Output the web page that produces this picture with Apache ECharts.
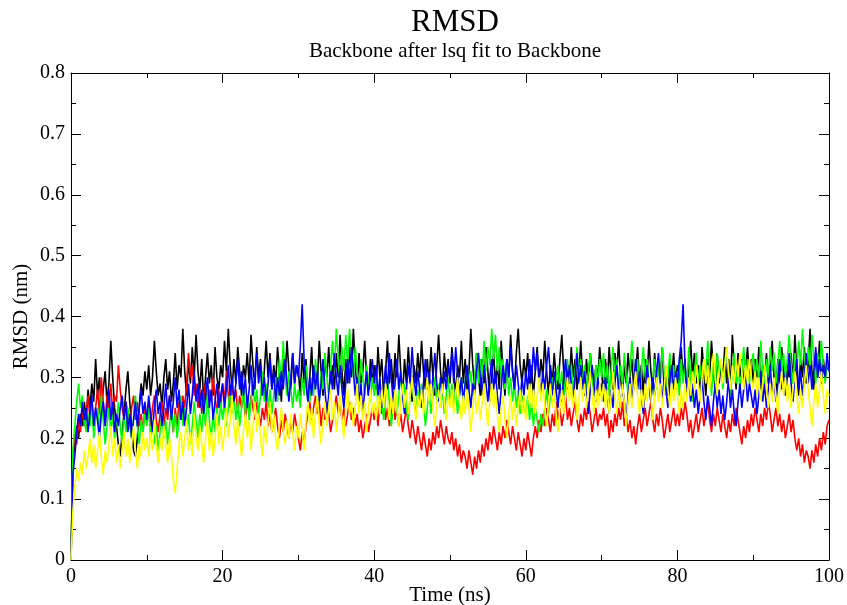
<!DOCTYPE html>
<html>
<head>
<meta charset="utf-8">
<script src="https://cdn.jsdelivr.net/npm/echarts@6/dist/echarts.min.js"></script>
<style>
html,body{margin:0;padding:0;background:#fff;}
#chart{width:847px;height:605px;}
</style>
</head>
<body>
<div id="chart"></div>
<script>
// time step 0.25 ns, 0..100 ns
const timeStep = 0.25;

const black = [
0.00,0.16,0.19,0.22,0.20,0.24,0.22,0.26,0.23,0.28,0.25,0.29,0.26,0.33,0.27,0.30,0.25,0.28,0.31,0.26,0.29,0.36,0.30,0.25,0.22,0.19,0.17,0.21,0.24,0.28,0.31,0.26,0.22,0.18,0.17,0.20,0.25,0.29,0.27,0.31,
0.28,0.32,0.27,0.30,0.36,0.31,0.27,0.29,0.25,0.30,0.33,0.28,0.31,0.26,0.29,0.34,0.28,0.32,0.30,0.38,0.31,0.27,0.33,0.29,0.35,0.30,0.37,0.31,0.28,0.33,0.26,0.30,0.34,0.29,0.32,0.27,0.35,0.30,0.28,0.32,
0.30,0.36,0.31,0.38,0.32,0.28,0.33,0.29,0.35,0.31,0.27,0.32,0.30,0.34,0.29,0.37,0.32,0.28,0.35,0.30,0.33,0.27,0.31,0.36,0.30,0.34,0.28,0.32,0.29,0.35,0.31,0.26,0.33,0.30,0.36,0.31,0.28,0.34,0.29,0.32,
0.31,0.27,0.34,0.29,0.33,0.26,0.30,0.35,0.28,0.32,0.29,0.36,0.31,0.27,0.33,0.30,0.35,0.29,0.32,0.28,0.34,0.30,0.37,0.31,0.27,0.33,0.29,0.35,0.30,0.38,0.32,0.28,0.34,0.29,0.31,0.36,0.30,0.27,0.33,0.29,
0.32,0.28,0.35,0.30,0.33,0.27,0.31,0.36,0.29,0.33,0.28,0.34,0.30,0.37,0.31,0.27,0.33,0.29,0.35,0.30,0.26,0.32,0.29,0.34,0.30,0.36,0.31,0.28,0.33,0.29,0.35,0.30,0.27,0.32,0.37,0.31,0.28,0.34,0.30,0.33,
0.29,0.35,0.31,0.27,0.32,0.30,0.36,0.29,0.33,0.28,0.31,0.38,0.32,0.28,0.34,0.30,0.27,0.33,0.29,0.35,0.31,0.26,0.30,0.34,0.29,0.32,0.28,0.36,0.31,0.27,0.33,0.30,0.37,0.31,0.28,0.34,0.38,0.32,0.29,0.33,
0.30,0.34,0.28,0.32,0.27,0.31,0.35,0.29,0.33,0.30,0.36,0.31,0.27,0.32,0.29,0.34,0.30,0.28,0.33,0.37,0.31,0.27,0.32,0.29,0.35,0.30,0.33,0.28,0.31,0.36,0.30,0.27,0.33,0.29,0.34,0.31,0.28,0.32,0.30,0.35,
0.31,0.27,0.33,0.29,0.35,0.30,0.28,0.34,0.31,0.36,0.30,0.27,0.32,0.29,0.34,0.30,0.33,0.28,0.31,0.35,0.29,0.32,0.27,0.33,0.30,0.36,0.31,0.28,0.34,0.29,0.32,0.30,0.35,0.28,0.31,0.27,0.33,0.30,0.34,0.29,
0.32,0.28,0.35,0.30,0.33,0.27,0.31,0.36,0.30,0.34,0.29,0.32,0.28,0.35,0.31,0.27,0.33,0.30,0.36,0.31,0.28,0.34,0.29,0.32,0.30,0.35,0.29,0.33,0.28,0.37,0.32,0.28,0.34,0.30,0.33,0.29,0.31,0.35,0.30,0.33,
0.29,0.33,0.30,0.35,0.28,0.32,0.30,0.34,0.29,0.31,0.36,0.30,0.27,0.33,0.29,0.35,0.31,0.28,0.32,0.30,0.34,0.29,0.37,0.31,0.27,0.33,0.30,0.35,0.29,0.32,0.38,0.31,0.28,0.34,0.30,0.36,0.29,0.33,0.30,0.32,
0.31];

const red = [
0.00,0.17,0.21,0.19,0.23,0.21,0.25,0.22,0.24,0.27,0.23,0.26,0.22,0.25,0.28,0.24,0.30,0.26,0.23,0.27,0.25,0.29,0.24,0.27,0.26,0.32,0.28,0.25,0.23,0.26,0.24,0.22,0.25,0.27,0.23,0.26,0.22,0.24,0.21,0.25,
0.23,0.26,0.22,0.25,0.27,0.23,0.21,0.24,0.26,0.22,0.25,0.23,0.27,0.24,0.21,0.25,0.22,0.26,0.23,0.27,0.25,0.29,0.34,0.30,0.32,0.27,0.29,0.25,0.28,0.24,0.27,0.29,0.25,0.28,0.26,0.30,0.27,0.24,0.28,0.25,
0.29,0.26,0.31,0.27,0.25,0.29,0.26,0.28,0.24,0.27,0.25,0.28,0.23,0.26,0.24,0.27,0.25,0.23,0.26,0.24,0.22,0.25,0.23,0.26,0.22,0.24,0.21,0.23,0.25,0.22,0.20,0.23,0.21,0.24,0.22,0.20,0.23,0.21,0.24,0.22,
0.20,0.18,0.21,0.19,0.22,0.24,0.26,0.23,0.25,0.27,0.24,0.26,0.22,0.25,0.23,0.26,0.24,0.21,0.23,0.25,0.27,0.24,0.26,0.23,0.25,0.22,0.24,0.26,0.23,0.25,0.22,0.24,0.21,0.23,0.20,0.22,0.24,0.21,0.23,0.25,
0.23,0.25,0.22,0.26,0.24,0.27,0.23,0.25,0.22,0.24,0.26,0.23,0.25,0.22,0.24,0.21,0.23,0.25,0.22,0.20,0.23,0.21,0.19,0.22,0.20,0.18,0.21,0.19,0.17,0.20,0.18,0.21,0.19,0.22,0.20,0.23,0.21,0.19,0.22,0.20,
0.19,0.21,0.18,0.20,0.17,0.19,0.16,0.18,0.17,0.15,0.18,0.16,0.14,0.17,0.15,0.18,0.16,0.19,0.17,0.20,0.18,0.21,0.19,0.22,0.20,0.18,0.21,0.19,0.22,0.20,0.23,0.21,0.19,0.22,0.20,0.18,0.21,0.19,0.17,0.20,
0.18,0.21,0.19,0.17,0.20,0.22,0.20,0.23,0.21,0.24,0.22,0.25,0.23,0.21,0.24,0.22,0.26,0.23,0.25,0.22,0.24,0.27,0.23,0.25,0.22,0.24,0.26,0.23,0.21,0.24,0.22,0.25,0.23,0.26,0.24,0.21,0.23,0.25,0.22,0.24,
0.23,0.25,0.22,0.24,0.20,0.23,0.21,0.24,0.22,0.25,0.23,0.26,0.22,0.24,0.21,0.23,0.20,0.22,0.19,0.22,0.24,0.21,0.23,0.25,0.22,0.24,0.26,0.23,0.21,0.24,0.22,0.25,0.23,0.20,0.22,0.24,0.21,0.23,0.25,0.22,
0.24,0.22,0.25,0.23,0.26,0.24,0.21,0.23,0.20,0.22,0.24,0.21,0.23,0.25,0.22,0.24,0.26,0.23,0.21,0.24,0.22,0.25,0.23,0.21,0.24,0.22,0.20,0.23,0.21,0.24,0.22,0.25,0.23,0.21,0.19,0.22,0.20,0.23,0.21,0.24,
0.22,0.25,0.23,0.21,0.24,0.22,0.25,0.23,0.26,0.24,0.21,0.23,0.25,0.22,0.24,0.21,0.23,0.20,0.22,0.24,0.21,0.23,0.20,0.18,0.20,0.17,0.19,0.16,0.18,0.17,0.15,0.18,0.16,0.19,0.17,0.20,0.18,0.21,0.19,0.22,
0.23];

const green = [
0.00,0.18,0.22,0.26,0.29,0.25,0.27,0.23,0.21,0.24,0.22,0.26,0.20,0.23,0.25,0.21,0.27,0.23,0.19,0.22,0.25,0.21,0.24,0.20,0.23,0.26,0.22,0.19,0.24,0.21,0.25,0.22,0.20,0.23,0.27,0.22,0.19,0.23,0.21,0.24,
0.22,0.25,0.20,0.23,0.19,0.22,0.18,0.21,0.24,0.20,0.23,0.19,0.22,0.26,0.21,0.24,0.20,0.23,0.27,0.22,0.25,0.21,0.24,0.19,0.22,0.26,0.23,0.20,0.24,0.21,0.25,0.22,0.28,0.23,0.20,0.24,0.21,0.25,0.22,0.26,
0.23,0.26,0.22,0.25,0.28,0.24,0.27,0.23,0.26,0.22,0.25,0.29,0.24,0.27,0.23,0.26,0.30,0.25,0.28,0.24,0.27,0.31,0.26,0.29,0.25,0.28,0.24,0.27,0.30,0.26,0.33,0.29,0.36,0.30,0.27,0.31,0.28,0.25,0.29,0.26,
0.28,0.25,0.30,0.27,0.32,0.28,0.26,0.30,0.27,0.33,0.29,0.26,0.31,0.28,0.34,0.30,0.27,0.32,0.36,0.31,0.38,0.33,0.29,0.35,0.31,0.37,0.32,0.38,0.33,0.30,0.35,0.31,0.28,0.33,0.30,0.27,0.32,0.29,0.26,0.30,
0.27,0.31,0.25,0.29,0.26,0.23,0.27,0.30,0.26,0.22,0.25,0.28,0.24,0.27,0.31,0.26,0.29,0.25,0.23,0.27,0.30,0.26,0.24,0.28,0.25,0.29,0.26,0.22,0.25,0.28,0.24,0.27,0.30,0.26,0.29,0.25,0.28,0.24,0.27,0.30,
0.26,0.29,0.25,0.28,0.24,0.27,0.30,0.26,0.29,0.32,0.28,0.31,0.27,0.30,0.34,0.29,0.33,0.30,0.36,0.31,0.35,0.32,0.38,0.33,0.37,0.31,0.35,0.30,0.33,0.28,0.32,0.27,0.30,0.26,0.29,0.25,0.28,0.24,0.27,0.25,
0.24,0.27,0.23,0.26,0.22,0.25,0.23,0.21,0.24,0.22,0.25,0.28,0.24,0.27,0.30,0.26,0.29,0.32,0.28,0.31,0.27,0.30,0.33,0.29,0.32,0.28,0.31,0.35,0.30,0.33,0.29,0.32,0.28,0.31,0.34,0.30,0.27,0.32,0.29,0.33,
0.30,0.34,0.29,0.32,0.27,0.31,0.35,0.30,0.33,0.28,0.32,0.29,0.34,0.30,0.27,0.31,0.36,0.32,0.29,0.33,0.28,0.31,0.35,0.30,0.33,0.29,0.26,0.30,0.33,0.28,0.32,0.29,0.35,0.31,0.27,0.30,0.34,0.29,0.32,0.28,
0.31,0.27,0.33,0.29,0.32,0.28,0.35,0.30,0.26,0.31,0.34,0.29,0.32,0.28,0.33,0.30,0.36,0.31,0.27,0.32,0.29,0.34,0.30,0.33,0.28,0.32,0.35,0.30,0.27,0.31,0.34,0.29,0.32,0.28,0.31,0.35,0.30,0.33,0.29,0.32,
0.34,0.30,0.33,0.29,0.36,0.31,0.28,0.33,0.30,0.35,0.31,0.34,0.29,0.32,0.36,0.31,0.34,0.30,0.33,0.37,0.32,0.29,0.34,0.31,0.36,0.32,0.38,0.33,0.30,0.35,0.31,0.37,0.33,0.29,0.34,0.31,0.36,0.32,0.29,0.33,
0.31];

const blue = [
0.00,0.14,0.17,0.21,0.24,0.22,0.26,0.23,0.25,0.21,0.24,0.27,0.22,0.25,0.23,0.20,0.24,0.26,0.22,0.25,0.28,0.23,0.26,0.21,0.24,0.22,0.25,0.27,0.23,0.26,0.21,0.24,0.20,0.23,0.26,0.22,0.25,0.28,0.24,0.26,
0.23,0.27,0.24,0.21,0.25,0.28,0.24,0.26,0.22,0.25,0.29,0.24,0.27,0.23,0.26,0.30,0.25,0.28,0.23,0.26,0.22,0.25,0.29,0.24,0.27,0.31,0.26,0.29,0.25,0.28,0.24,0.27,0.30,0.25,0.28,0.23,0.26,0.29,0.25,0.27,
0.29,0.25,0.28,0.32,0.27,0.30,0.26,0.29,0.33,0.28,0.31,0.27,0.30,0.25,0.28,0.32,0.27,0.30,0.34,0.29,0.32,0.27,0.30,0.26,0.29,0.33,0.28,0.31,0.26,0.30,0.27,0.31,0.28,0.33,0.29,0.26,0.30,0.34,0.29,0.32,
0.30,0.35,0.42,0.33,0.29,0.26,0.30,0.27,0.32,0.28,0.31,0.26,0.29,0.33,0.28,0.24,0.27,0.31,0.28,0.34,0.30,0.27,0.32,0.28,0.25,0.29,0.33,0.29,0.35,0.31,0.27,0.30,0.26,0.29,0.24,0.28,0.31,0.27,0.30,0.33,
0.29,0.32,0.27,0.30,0.25,0.28,0.32,0.28,0.34,0.30,0.26,0.29,0.33,0.28,0.31,0.27,0.24,0.28,0.32,0.29,0.35,0.30,0.27,0.31,0.28,0.25,0.29,0.33,0.28,0.31,0.27,0.30,0.34,0.29,0.26,0.30,0.27,0.31,0.28,0.32,
0.30,0.34,0.29,0.35,0.31,0.27,0.30,0.26,0.29,0.32,0.28,0.25,0.29,0.27,0.31,0.34,0.30,0.27,0.32,0.29,0.26,0.30,0.33,0.28,0.31,0.27,0.24,0.28,0.32,0.29,0.33,0.30,0.35,0.31,0.28,0.32,0.29,0.26,0.30,0.27,
0.31,0.28,0.33,0.29,0.35,0.31,0.34,0.30,0.27,0.31,0.28,0.32,0.35,0.30,0.27,0.31,0.28,0.25,0.29,0.26,0.30,0.33,0.28,0.32,0.29,0.26,0.30,0.34,0.29,0.32,0.28,0.31,0.27,0.24,0.28,0.32,0.29,0.26,0.30,0.27,
0.29,0.26,0.30,0.27,0.24,0.28,0.25,0.29,0.32,0.28,0.25,0.29,0.26,0.23,0.27,0.30,0.26,0.29,0.33,0.28,0.31,0.27,0.24,0.28,0.32,0.29,0.26,0.30,0.27,0.31,0.34,0.29,0.26,0.30,0.28,0.25,0.29,0.32,0.28,0.31,
0.29,0.33,0.36,0.42,0.32,0.28,0.30,0.26,0.29,0.25,0.28,0.24,0.27,0.30,0.26,0.23,0.27,0.25,0.22,0.26,0.29,0.25,0.28,0.24,0.27,0.23,0.26,0.30,0.25,0.28,0.24,0.22,0.26,0.29,0.25,0.28,0.31,0.26,0.29,0.27,
0.25,0.28,0.24,0.27,0.31,0.26,0.29,0.25,0.28,0.32,0.27,0.30,0.26,0.29,0.33,0.28,0.31,0.27,0.30,0.34,0.29,0.26,0.30,0.33,0.28,0.31,0.27,0.30,0.34,0.29,0.32,0.28,0.31,0.35,0.30,0.33,0.29,0.32,0.30,0.34,
0.31];

const yellow = [
0.00,0.08,0.12,0.15,0.13,0.16,0.14,0.18,0.15,0.17,0.20,0.16,0.19,0.15,0.18,0.21,0.17,0.14,0.18,0.16,0.19,0.22,0.17,0.20,0.16,0.19,0.15,0.18,0.21,0.17,0.20,0.16,0.19,0.22,0.18,0.15,0.19,0.17,0.21,0.18,
0.20,0.17,0.21,0.18,0.23,0.19,0.16,0.20,0.18,0.22,0.19,0.16,0.20,0.17,0.13,0.11,0.15,0.19,0.21,0.17,0.20,0.23,0.18,0.21,0.17,0.24,0.20,0.18,0.22,0.19,0.16,0.20,0.23,0.18,0.21,0.17,0.20,0.24,0.19,0.22,
0.18,0.21,0.25,0.20,0.23,0.27,0.22,0.19,0.23,0.20,0.17,0.21,0.24,0.20,0.23,0.18,0.22,0.26,0.21,0.24,0.20,0.17,0.22,0.19,0.23,0.26,0.21,0.24,0.20,0.18,0.22,0.25,0.21,0.19,0.23,0.20,0.24,0.21,0.18,0.22,
0.20,0.24,0.21,0.18,0.23,0.26,0.22,0.25,0.20,0.24,0.27,0.22,0.19,0.23,0.26,0.22,0.25,0.28,0.23,0.26,0.21,0.24,0.27,0.23,0.20,0.25,0.28,0.24,0.26,0.22,0.25,0.29,0.24,0.27,0.23,0.26,0.21,0.25,0.28,0.24,
0.26,0.23,0.27,0.24,0.28,0.25,0.29,0.26,0.23,0.27,0.24,0.28,0.25,0.22,0.26,0.29,0.25,0.28,0.24,0.27,0.30,0.26,0.23,0.27,0.25,0.28,0.24,0.27,0.30,0.26,0.29,0.25,0.22,0.26,0.28,0.25,0.29,0.26,0.23,0.27,
0.25,0.28,0.24,0.27,0.30,0.26,0.23,0.27,0.24,0.28,0.25,0.21,0.25,0.28,0.24,0.27,0.23,0.26,0.29,0.25,0.22,0.26,0.29,0.25,0.28,0.24,0.21,0.25,0.27,0.23,0.20,0.24,0.27,0.23,0.26,0.22,0.25,0.28,0.24,0.27,
0.23,0.26,0.29,0.25,0.28,0.24,0.27,0.30,0.26,0.29,0.25,0.22,0.26,0.29,0.25,0.28,0.24,0.21,0.25,0.28,0.24,0.27,0.30,0.26,0.29,0.25,0.28,0.23,0.26,0.30,0.26,0.29,0.25,0.28,0.31,0.27,0.24,0.28,0.25,0.29,
0.26,0.29,0.25,0.28,0.24,0.27,0.31,0.27,0.24,0.28,0.25,0.29,0.26,0.22,0.26,0.29,0.25,0.28,0.31,0.27,0.24,0.28,0.25,0.29,0.26,0.30,0.27,0.23,0.27,0.30,0.26,0.29,0.25,0.28,0.32,0.28,0.25,0.29,0.26,0.30,
0.27,0.24,0.28,0.25,0.29,0.26,0.30,0.27,0.31,0.28,0.32,0.29,0.26,0.30,0.33,0.29,0.32,0.28,0.31,0.34,0.30,0.27,0.31,0.33,0.29,0.32,0.35,0.31,0.28,0.32,0.29,0.33,0.30,0.34,0.31,0.28,0.32,0.29,0.33,0.30,
0.28,0.31,0.27,0.30,0.26,0.29,0.32,0.28,0.25,0.29,0.26,0.30,0.27,0.24,0.28,0.31,0.27,0.30,0.26,0.29,0.25,0.28,0.31,0.27,0.24,0.28,0.25,0.29,0.32,0.28,0.25,0.22,0.26,0.29,0.25,0.28,0.31,0.27,0.24,0.28,
0.27];

const xTicks = [0, 20, 40, 60, 80, 100];
const yTicks = [0, 0.1, 0.2, 0.3, 0.4, 0.5, 0.6, 0.7, 0.8];

const seriesList = [
  {name: 'black', values: black, color: '#000000'},
  {name: 'red', values: red, color: '#ff0000'},
  {name: 'green', values: green, color: '#00ff00'},
  {name: 'blue', values: blue, color: '#0000ff'},
  {name: 'yellow', values: yellow, color: '#ffff00'}
];

const FONT = '"Liberation Serif", "DejaVu Serif", serif';
const TICK_FS = 20;

function axisCommon(showLabels) {
  return {
    axisLine: {show: true, onZero: false, lineStyle: {color: '#000', width: 1}},
    axisTick: {show: true, inside: true, length: 10, lineStyle: {color: '#000', width: 1}},
    minorTick: {show: true, splitNumber: 2, length: 5, lineStyle: {color: '#000', width: 1}},
    splitLine: {show: false},
    minorSplitLine: {show: false},
    axisLabel: {show: showLabels, color: '#000', fontFamily: FONT, fontSize: TICK_FS}
  };
}

const chart = echarts.init(document.getElementById('chart'), null, {renderer: 'canvas'});
chart.setOption({
  animation: false,
  backgroundColor: '#fff',
  title: [
    {text: 'RMSD', left: 450, top: 2, textAlign: 'center',
     textStyle: {fontFamily: FONT, fontSize: 31, fontWeight: 'normal', color: '#000'}},
    {text: 'Backbone after lsq fit to Backbone', left: 450, top: 36, textAlign: 'center',
     textStyle: {fontFamily: FONT, fontSize: 21, fontWeight: 'normal', color: '#000'}}
  ],
  grid: {left: 71, right: 18, top: 73, bottom: 45, containLabel: false, outerBoundsMode: 'none'},
  xAxis: [
    Object.assign({type: 'value', min: 0, max: 100, interval: 20, position: 'bottom',
      name: 'Time (ns)', nameLocation: 'middle', nameGap: 25, nameMoveOverlap: false,
      nameTextStyle: {fontFamily: FONT, fontSize: 21, color: '#000'}}, axisCommon(true),
      {axisLabel: {show: true, color: '#000', fontFamily: FONT, fontSize: TICK_FS, margin: 7,
        formatter: v => xTicks.includes(v) ? String(v) : ''}}),
    Object.assign({type: 'value', min: 0, max: 100, interval: 20, position: 'top'}, axisCommon(false))
  ],
  yAxis: [
    Object.assign({type: 'value', min: 0, max: 0.8, interval: 0.1, position: 'left',
      name: 'RMSD (nm)', nameLocation: 'middle', nameGap: 39, nameMoveOverlap: false,
      nameTextStyle: {fontFamily: FONT, fontSize: 21, color: '#000'}}, axisCommon(true),
      {axisLabel: {show: true, color: '#000', fontFamily: FONT, fontSize: TICK_FS, margin: 6,
        formatter: v => {
          const r = Math.round(v * 10) / 10;
          return yTicks.includes(r) ? (r === 0 ? '0' : r.toFixed(1)) : '';
        }}}),
    Object.assign({type: 'value', min: 0, max: 0.8, interval: 0.1, position: 'right'}, axisCommon(false))
  ],
  series: seriesList.map(s => ({
    name: s.name,
    type: 'line',
    xAxisIndex: 0,
    yAxisIndex: 0,
    showSymbol: false,
    symbol: 'none',
    silent: true,
    lineStyle: {color: s.color, width: 1.6},
    itemStyle: {color: s.color},
    data: s.values.map((v, i) => [i * timeStep, v])
  }))
});
</script>
</body>
</html>
